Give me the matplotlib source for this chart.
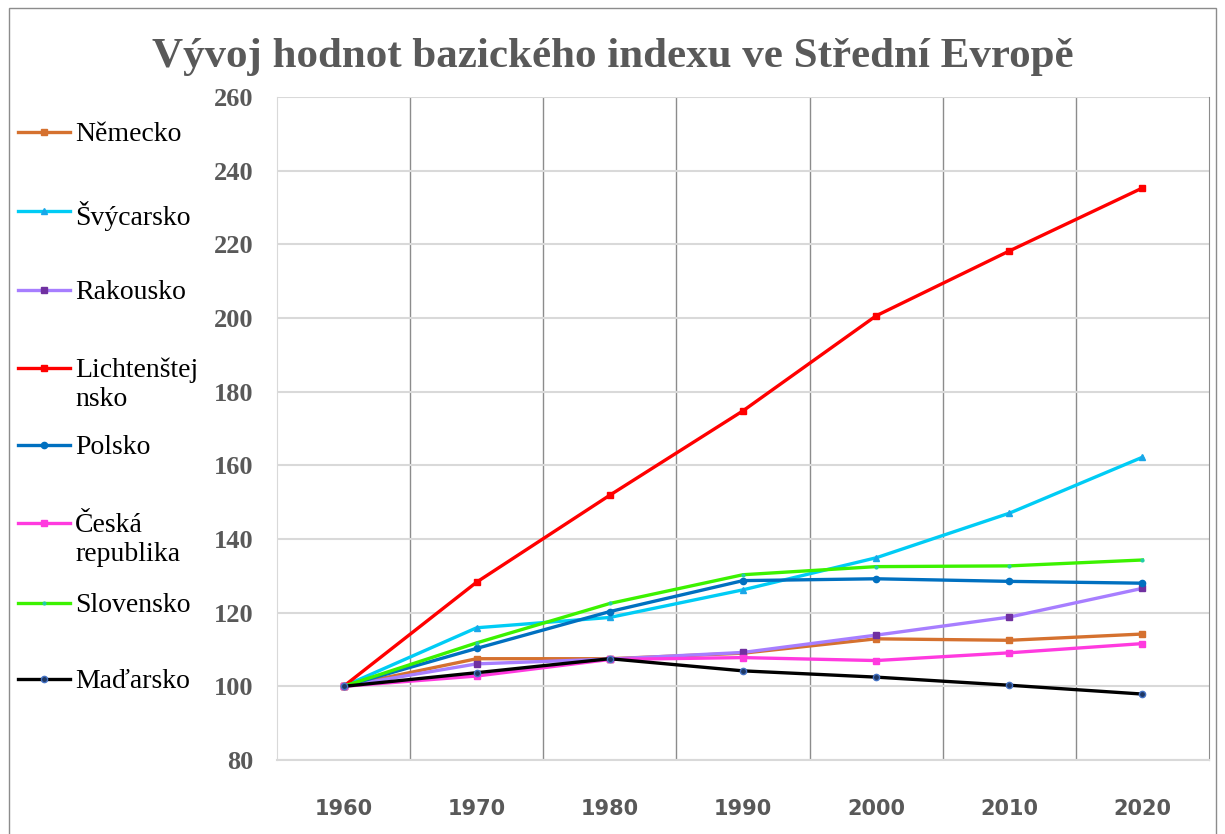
import matplotlib.pyplot as plt
from matplotlib.lines import Line2D
from matplotlib.patches import Rectangle

years = ['1960', '1970', '1980', '1990', '2000', '2010', '2020']

nemecko = [100, 107.5, 107.5, 109.0, 112.9, 112.5, 114.2]
svycarsko = [100, 115.9, 118.7, 126.2, 134.9, 147.0, 162.2]
rakousko = [100, 106.1, 107.4, 109.2, 113.9, 118.8, 126.6]
lichtenstejnsko = [100, 128.3, 151.9, 174.8, 200.6, 218.2, 235.3]
polsko = [100, 110.3, 120.3, 128.7, 129.2, 128.5, 128.0]
ceska = [100, 102.8, 107.3, 107.8, 107.0, 109.1, 111.6]
slovensko = [100, 111.8, 122.5, 130.3, 132.5, 132.7, 134.3]
madarsko = [100, 103.7, 107.5, 104.2, 102.5, 100.3, 97.9]

names = ['Německo', 'Švýcarsko', 'Rakousko', 'Lichtenštej\nnsko', 'Polsko',
         'Česká\nrepublika', 'Slovensko', 'Maďarsko']
values = [nemecko, svycarsko, rakousko, lichtenstejnsko, polsko, ceska,
          slovensko, madarsko]

# line colour, marker, marker face, marker edge, marker size
styles = [
    ('#D5712F', 's', '#D5712F', '#D5712F', 4.5),
    ('#00CCF5', '^', '#1AA7E8', '#1AA7E8', 4.5),
    ('#A77EFF', 's', '#7030A0', '#7030A0', 5),
    ('#FF0000', 's', '#FF0000', '#FF0000', 4.5),
    ('#0070C0', 'o', '#0070C0', '#0070C0', 4.5),
    ('#FF3ADF', 's', '#FF3ADF', '#FF3ADF', 5),
    ('#3CF200', 'o', '#22CCAA', '#22CCAA', 2),
    ('#000000', 'o', '#1F3864', '#4472C4', 4.5),
]

fig = plt.figure(figsize=(12.25, 8.34), dpi=100)
ax = fig.add_axes([277 / 1225, 1 - 760 / 834, 932 / 1225, 663 / 834])

x = list(range(len(years)))
for vals, (lc, mk, mf, me, ms) in zip(values, styles):
    ax.plot(x, vals, color=lc, lw=2.4, marker=mk, markerfacecolor=mf,
            markeredgecolor=me, markersize=ms, markeredgewidth=1, zorder=3)

ax.set_xlim(-0.5, 6.5)
ax.set_ylim(80, 260)
ax.set_yticks(range(80, 261, 20))
ax.set_xticks(x)
ax.set_xticklabels(years)
ax.yaxis.grid(True, color='#d9d9d9', lw=1.5, zorder=0)
for b in [0.5, 1.5, 2.5, 3.5, 4.5, 5.5]:
    ax.axvline(b, color='#8c8c8c', lw=1, zorder=1)
ax.tick_params(length=0)
ax.tick_params(axis='y', pad=17)
ax.tick_params(axis='x', pad=28)
for t in ax.get_yticklabels():
    t.set_fontfamily('Liberation Serif')
    t.set_fontweight('bold')
    t.set_fontsize(19)
    t.set_color('#595959')
for t in ax.get_xticklabels():
    t.set_fontfamily('DejaVu Sans')
    t.set_fontweight('bold')
    t.set_fontsize(15)
    t.set_color('#595959')
ax.spines['top'].set_visible(False)
ax.spines['left'].set_color('#d9d9d9')
ax.spines['bottom'].set_color('#d9d9d9')
ax.spines['bottom'].set_linewidth(1.5)
ax.spines['right'].set_color('#8c8c8c')

fig.text(0.5, 1 - 57 / 834, 'Vývoj hodnot bazického indexu ve Střední Evropě',
         ha='center', va='center', fontfamily='Liberation Serif',
         fontweight='bold', fontsize=31, color='#595959')

# legend on the left, marker aligned with the first text line
leg_y = [132, 211, 290, 368, 445, 523, 603, 679]
for name, y, (lc, mk, mf, me, ms) in zip(names, leg_y, styles):
    yf = 1 - y / 834
    fig.add_artist(Line2D([18 / 1225, 70 / 1225], [yf, yf], color=lc, lw=2.4,
                          transform=fig.transFigure))
    fig.add_artist(Line2D([44 / 1225], [yf], marker=mk, markerfacecolor=mf,
                          markeredgecolor=me, markersize=ms, lw=0,
                          transform=fig.transFigure))
    fig.text(75 / 1225, yf + 10 / 834, name, ha='left', va='top',
             fontfamily='Liberation Serif', fontsize=20, color='black',
             linespacing=1.2)

fig.add_artist(Rectangle((9 / 1225, -0.01), 1207 / 1225, 1 - 8 / 834 + 0.01,
                         transform=fig.transFigure, fill=False,
                         edgecolor='#8c8c8c', lw=1))

fig.savefig('out.png', dpi=100)
